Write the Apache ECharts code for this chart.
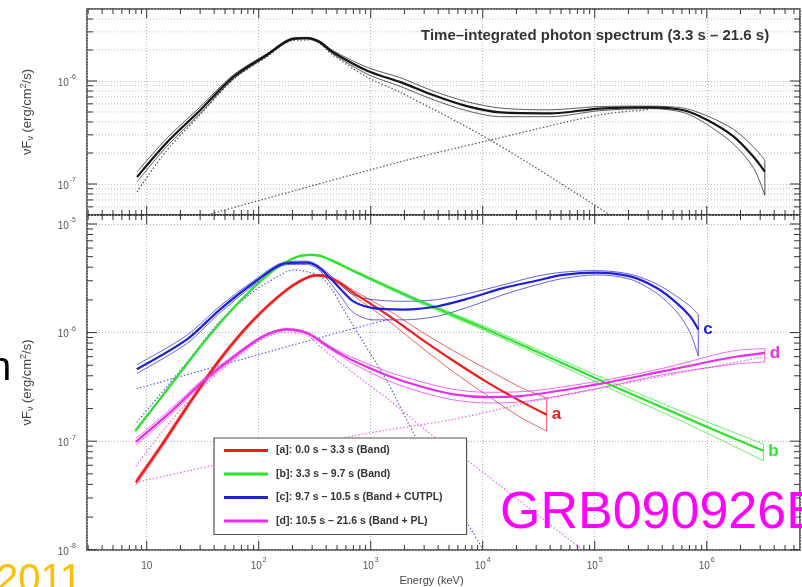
<!DOCTYPE html>
<html><head><meta charset="utf-8">
<script src="https://cdn.jsdelivr.net/npm/echarts@6/dist/echarts.min.js"></script>
<style>html,body{margin:0;padding:0;background:#fff}#c{width:802px;height:587px}</style>
</head><body><div id="c"></div>
<script>
// ---------------- DATA ----------------
// Top panel: time-integrated spectrum (3.3 s - 21.6 s)
const topE   = [8.2, 15, 30, 59, 118, 200, 270, 350, 460, 940, 1820, 3600, 7200, 14500, 40000, 110000, 310000, 620000, 1000000, 1730000, 2600000, 3300000];
const topMid = [1.17e-7, 2.5e-7, 5.2e-7, 1.09e-6, 1.79e-6, 2.56e-6, 2.61e-6, 2.39e-6, 1.9e-6, 1.25e-6, 9.8e-7, 7.3e-7, 5.7e-7, 4.95e-7, 4.85e-7, 5.4e-7, 5.55e-7, 5.2e-7, 4.2e-7, 2.9e-7, 1.85e-7, 1.32e-7];
const topUp  = [1.31e-7, 2.75e-7, 5.6e-7, 1.14e-6, 1.84e-6, 2.61e-6, 2.65e-6, 2.45e-6, 1.97e-6, 1.35e-6, 1.08e-6, 8.0e-7, 6.3e-7, 5.45e-7, 5.25e-7, 5.65e-7, 5.7e-7, 5.45e-7, 4.6e-7, 3.4e-7, 2.3e-7, 1.71e-7];
const topLo  = [1.05e-7, 2.3e-7, 4.85e-7, 1.04e-6, 1.74e-6, 2.51e-6, 2.57e-6, 2.33e-6, 1.83e-6, 1.16e-6, 8.9e-7, 6.6e-7, 5.15e-7, 4.5e-7, 4.5e-7, 5.15e-7, 5.4e-7, 4.95e-7, 3.8e-7, 2.45e-7, 1.45e-7, 7.8e-8];
const topBandE = [8.2, 15, 30, 59, 118, 200, 300, 460, 940, 1820, 11700, 130000, 160000];
const topBandV = [8.4e-8, 2.1e-7, 4.7e-7, 1.03e-6, 1.71e-6, 2.47e-6, 2.5e-6, 1.78e-6, 1.08e-6, 7.8e-7, 2.67e-7, 5.2e-8, 4.4e-8];
const topCplE = [10, 39, 1820, 11700, 110000, 310000];
const topCplV = [3.5e-8, 5.2e-8, 1.64e-7, 2.67e-7, 4.68e-7, 5.3e-7];

// Bottom panel: [a] red
const nameA = '[a]: 0.0 s \u2013 3.3 s (Band)';
const aE   = [8.0, 13.2, 22.7, 45, 90, 178, 287, 352, 497, 700, 1390, 2750, 5470, 10900, 21500, 37200];
const aMid = [4.18e-8, 8.75e-8, 2.04e-7, 5.65e-7, 1.31e-6, 2.48e-6, 3.29e-6, 3.36e-6, 2.98e-6, 2.33e-6, 1.47e-6, 8.9e-7, 5.5e-7, 3.5e-7, 2.35e-7, 1.75e-7];
const aUp  = [4.4e-8, 9.2e-8, 2.14e-7, 5.9e-7, 1.36e-6, 2.55e-6, 3.36e-6, 3.43e-6, 3.06e-6, 2.45e-6, 1.64e-6, 1.04e-6, 6.8e-7, 4.6e-7, 3.15e-7, 2.5e-7];
const aLo  = [3.95e-8, 8.3e-8, 1.94e-7, 5.4e-7, 1.26e-6, 2.41e-6, 3.22e-6, 3.29e-6, 2.88e-6, 2.2e-6, 1.32e-6, 7.5e-7, 4.35e-7, 2.65e-7, 1.67e-7, 1.24e-7];
// [b] green
const nameB = '[b]: 3.3 s \u2013 9.7 s (Band)';
const bE   = [7.9, 16.1, 32, 63.6, 126, 204, 287, 352, 463, 700, 2750, 10900, 30000, 147000, 810000, 3200000];
const bMid = [1.24e-7, 3.21e-7, 8.03e-7, 1.81e-6, 3.53e-6, 4.84e-6, 5.2e-6, 5.1e-6, 4.55e-6, 3.7e-6, 1.94e-6, 1.07e-6, 6.73e-7, 3.21e-7, 1.49e-7, 8.15e-8];
const bUp  = [1.27e-7, 3.28e-7, 8.2e-7, 1.84e-6, 3.58e-6, 4.9e-6, 5.27e-6, 5.18e-6, 4.63e-6, 3.78e-6, 2.0e-6, 1.12e-6, 7.1e-7, 3.45e-7, 1.65e-7, 9.4e-8];
const bLo  = [1.21e-7, 3.14e-7, 7.86e-7, 1.78e-6, 3.48e-6, 4.78e-6, 5.13e-6, 5.02e-6, 4.47e-6, 3.62e-6, 1.87e-6, 1.02e-6, 6.35e-7, 2.95e-7, 1.32e-7, 6.6e-8];
// [c] blue
const nameC = '[c]: 9.7 s \u2013 10.5 s (Band + CUTPL)';
const cE   = [8.15, 22.7, 45, 90, 178, 267, 352, 532, 700, 1055, 1950, 3880, 7700, 15200, 30000, 52000, 104000, 207000, 358000, 540000, 710000, 840000];
const cMid = [4.6e-7, 8.6e-7, 1.63e-6, 2.86e-6, 4.36e-6, 4.4e-6, 3.9e-6, 2.55e-6, 1.94e-6, 1.68e-6, 1.63e-6, 1.74e-6, 2.08e-6, 2.57e-6, 3.0e-6, 3.4e-6, 3.57e-6, 3.29e-6, 2.57e-6, 1.87e-6, 1.41e-6, 1.07e-6];
const cUp  = [5.05e-7, 9.4e-7, 1.75e-6, 3.0e-6, 4.5e-6, 4.55e-6, 4.05e-6, 2.8e-6, 2.23e-6, 2.01e-6, 1.94e-6, 2.01e-6, 2.31e-6, 2.75e-6, 3.3e-6, 3.6e-6, 3.72e-6, 3.45e-6, 2.8e-6, 2.15e-6, 1.75e-6, 1.46e-6];
const cLo  = [4.2e-7, 7.9e-7, 1.52e-6, 2.72e-6, 4.22e-6, 4.25e-6, 3.7e-6, 2.2e-6, 1.53e-6, 1.31e-6, 1.31e-6, 1.41e-6, 1.74e-6, 2.23e-6, 2.75e-6, 3.15e-6, 3.4e-6, 3.1e-6, 2.3e-6, 1.55e-6, 1.0e-6, 6.07e-7];
const cBandE = [8.15, 22.7, 45, 90, 178, 204, 352, 463, 532, 700, 1390, 2570, 10100, 14000];
const cBandV = [1.49e-7, 5.27e-7, 1.27e-6, 2.39e-6, 3.65e-6, 3.78e-6, 3.3e-6, 2.4e-6, 1.85e-6, 1.15e-6, 3.6e-7, 1.05e-7, 1.0e-8, 5.5e-9];
const cCplE = [8.15, 352, 1000, 1500];
const cCplV = [3.04e-7, 9.0e-7, 1.2e-6, 1.33e-6];
// [d] magenta
const nameD = '[d]: 10.5 s \u2013 21.6 s (Band + PL)';
const dE   = [8.0, 16.1, 32, 63.6, 110, 178, 270, 405, 532, 700, 1390, 2750, 5470, 10900, 21500, 104000, 410000, 1600000, 3300000];
const dMid = [9.86e-8, 1.83e-7, 3.57e-7, 6.28e-7, 9.25e-7, 1.07e-6, 9.9e-7, 7.6e-7, 6.4e-7, 5.5e-7, 4.05e-7, 3.2e-7, 2.7e-7, 2.55e-7, 2.6e-7, 3.33e-7, 4.41e-7, 5.86e-7, 6.5e-7];
const dUp  = [1.06e-7, 1.95e-7, 3.75e-7, 6.5e-7, 9.45e-7, 1.09e-6, 1.01e-6, 7.85e-7, 6.65e-7, 5.85e-7, 4.4e-7, 3.55e-7, 3.0e-7, 2.82e-7, 2.85e-7, 3.55e-7, 4.7e-7, 6.7e-7, 7.13e-7];
const dLo  = [9.2e-8, 1.72e-7, 3.4e-7, 6.05e-7, 9.05e-7, 1.05e-6, 9.7e-7, 7.35e-7, 6.15e-7, 5.15e-7, 3.65e-7, 2.85e-7, 2.4e-7, 2.25e-7, 2.3e-7, 3.05e-7, 4.1e-7, 5.05e-7, 5.38e-7];
const dBandE = [8.0, 16.1, 32, 63.6, 110, 178, 270, 352, 532, 1000, 1390, 3880, 7700, 69000, 90000];
const dBandV = [5.9e-8, 1.5e-7, 3.2e-7, 5.86e-7, 8.8e-7, 1.0e-6, 9.4e-7, 7.5e-7, 5.3e-7, 3.2e-7, 2.5e-7, 1.05e-7, 6.38e-8, 1.1e-8, 9e-9];
const dPlE = [8.0, 700, 5470, 30000, 3300000];
const dPlV = [4.18e-8, 1.12e-7, 1.59e-7, 2.35e-7, 6.0e-7];

// axis ranges and tick mantissas
const X_MIN = 2.93, X_MAX = 6.8e6;
const TOP_Y = [5e-8, 5e-6];
const BOT_Y = [9.95e-9, 1.21e-5];
const MANT = [1, 2, 3, 4, 5, 6, 7, 8, 9];
const X_EXP = [0, 1, 2, 3, 4, 5, 6];
const TOP_EXP = [-8, -7, -6];
const BOT_EXP = [-8, -7, -6, -5];

// colours
const RED = '#ee1d1d', GREEN = '#2fe22f', BLUE = '#1f1fd6', MAG = '#e82ee8', BLACK = '#151515';
const FONT = '"Liberation Sans", Arial, Helvetica, sans-serif';

// ---------------- helpers ----------------
function pairs(E, V) { return E.map((e, i) => [e, V[i]]); }
function ln(name, gi, E, V, color, width, opacity, extra) {
  return Object.assign({
    type: 'line', name: name, xAxisIndex: gi, yAxisIndex: gi, data: pairs(E, V),
    showSymbol: false, symbol: 'none', smooth: 0.3, silent: true, animation: false,
    lineStyle: { color: color, width: width, opacity: opacity }, itemStyle: { color: color }, z: 3
  }, extra || {});
}
function dotted(name, gi, E, V, color) {
  return ln(name, gi, E, V, color, 1.2, 0.9, { lineStyle: { color: color, width: 1.2, type: [1.5, 2] }, z: 2 });
}
function cap(name, gi, E, Up, Lo, color) {
  const n = E.length - 1;
  return { type: 'line', name: name, xAxisIndex: gi, yAxisIndex: gi, data: [[E[n], Lo[n]], [E[n], Up[n]]],
    showSymbol: false, symbol: 'none', silent: true, animation: false, lineStyle: { color: color, width: 1, opacity: 0.75 }, z: 3 };
}
function band(name, gi, E, Mid, Up, Lo, color, label) {
  const mid = ln(name, gi, E, Mid, color, 2.2, 1, { z: 4 });
  if (label) {
    mid.endLabel = { show: true, formatter: label, color: color, fontSize: 17, fontWeight: 'bold', fontFamily: FONT, distance: 5 };
  }
  return [
    ln(name + ' up', gi, E, Up, color, 1, 0.7),
    ln(name + ' lo', gi, E, Lo, color, 1, 0.7),
    cap(name + ' cap', gi, E, Up, Lo, color),
    mid
  ];
}
function tickValues(exps, lo, hi) {
  const out = [];
  exps.forEach(e => MANT.forEach(m => {
    const v = m * Math.pow(10, e);
    if (v > lo * 1.0001 && v < hi * 0.9999) out.push({ v: v, major: m === 1 ? 1 : 0 });
  }));
  return out;
}
const TICK_STYLE = { stroke: '#333', lineWidth: 1 };
function xTicks(gi, yRef) {
  return {
    type: 'custom', xAxisIndex: gi, yAxisIndex: gi, silent: true, animation: false, z: 5,
    data: tickValues(X_EXP, X_MIN, X_MAX).map(t => [t.v, yRef, t.major]),
    renderItem: function (params, api) {
      const cs = params.coordSys;
      const x = api.coord([api.value(0), api.value(1)])[0];
      const len = api.value(2) ? 9 : 5;
      const b = cs.y + cs.height, t = cs.y;
      return { type: 'group', children: [
        { type: 'line', shape: { x1: x, y1: b, x2: x, y2: b - len }, style: TICK_STYLE },
        { type: 'line', shape: { x1: x, y1: t, x2: x, y2: t + len }, style: TICK_STYLE }
      ] };
    }
  };
}
function yTicks(gi, exps, range) {
  return {
    type: 'custom', xAxisIndex: gi, yAxisIndex: gi, silent: true, animation: false, z: 5,
    data: tickValues(exps, range[0], range[1]).map(t => [100, t.v, t.major]),
    renderItem: function (params, api) {
      const cs = params.coordSys;
      const y = api.coord([api.value(0), api.value(1)])[1];
      const len = api.value(2) ? 10 : 6;
      const l = cs.x, r = cs.x + cs.width;
      return { type: 'group', children: [
        { type: 'line', shape: { x1: l, y1: y, x2: l + len, y2: y }, style: TICK_STYLE },
        { type: 'line', shape: { x1: r, y1: y, x2: r - len, y2: y }, style: TICK_STYLE }
      ] };
    }
  };
}
function yMinorGrid(gi, exps, range) {
  return {
    type: 'custom', xAxisIndex: gi, yAxisIndex: gi, silent: true, animation: false, z: 1,
    data: tickValues(exps, range[0], range[1]).filter(t => !t.major).map(t => [100, t.v]),
    renderItem: function (params, api) {
      const cs = params.coordSys;
      const y = api.coord([api.value(0), api.value(1)])[1];
      return { type: 'line', shape: { x1: cs.x, y1: y, x2: cs.x + cs.width, y2: y },
        style: { stroke: '#bdbdbd', lineWidth: 1, lineDash: [1, 2] } };
    }
  };
}
function powLabel(v) {
  const lg = Math.log10(v), e = Math.round(lg);
  if (Math.abs(lg - e) > 1e-4) return '';
  if (e === 1) return '{b|10}';
  return '{b|10}{s|' + e + '}';
}
const RICH = {
  b: { fontSize: 10, color: '#555', fontFamily: FONT, lineHeight: 14, verticalAlign: 'bottom' },
  s: { fontSize: 7, color: '#555', fontFamily: FONT, lineHeight: 14, verticalAlign: 'top', padding: [0, 0, 0, 1] }
};
const GRIDLINE = { show: true, lineStyle: { type: [1, 2], color: '#b5b5b5', width: 1 } };
function xAxisCfg(gi, showLabel) {
  return {
    type: 'log', logBase: 10, gridIndex: gi, min: X_MIN, max: X_MAX,
    axisLine: { show: false }, axisTick: { show: false }, minorTick: { show: false },
    splitLine: GRIDLINE,
    axisLabel: { show: showLabel, formatter: powLabel, rich: RICH, margin: 7, showMinLabel: true, showMaxLabel: true },
    name: showLabel ? 'Energy (keV)' : '', nameLocation: 'middle', nameGap: 22,
    nameTextStyle: { fontSize: 11, color: '#444', fontFamily: FONT, padding: [0, 24, 0, 0] }
  };
}
const YNAME = 'νF{sub|ν} (erg/cm{sup|2}/s)';
function yAxisCfg(gi, range) {
  return {
    type: 'log', logBase: 10, gridIndex: gi, min: range[0], max: range[1],
    axisLine: { show: false }, axisTick: { show: false }, minorTick: { show: false },
    splitLine: GRIDLINE,
    axisLabel: { formatter: powLabel, rich: RICH, margin: 11 },
    name: YNAME, nameLocation: 'middle', nameGap: 52,
    nameTextStyle: { fontSize: 13, color: '#444', fontFamily: FONT,
      rich: { sub: { fontSize: 9, color: '#444', verticalAlign: 'bottom', lineHeight: 16 },
              sup: { fontSize: 9, color: '#444', verticalAlign: 'top', lineHeight: 16 } } }
  };
}

// ---------------- series ----------------
const series = [];
// top panel
series.push(yMinorGrid(0, TOP_EXP, TOP_Y));
series.push(dotted('top band', 0, topBandE, topBandV, '#555'));
series.push(dotted('top cpl', 0, topCplE, topCplV, '#555'));
series.push(...band('Time-integrated', 0, topE, topMid, topUp, topLo, BLACK, null));
series.push(xTicks(0, 1e-6), yTicks(0, TOP_EXP, TOP_Y));
// bottom panel
series.push(dotted('c band', 1, cBandE, cBandV, '#5b5be0'));
series.push(dotted('c cutpl', 1, cCplE, cCplV, '#5b5be0'));
series.push(dotted('d band', 1, dBandE, dBandV, '#e466e4'));
series.push(dotted('d pl', 1, dPlE, dPlV, '#e466e4'));
series.push(...band(nameA, 1, aE, aMid, aUp, aLo, RED, 'a'));
series.push(...band(nameB, 1, bE, bMid, bUp, bLo, GREEN, 'b'));
series.push(...band(nameC, 1, cE, cMid, cUp, cLo, BLUE, 'c'));
series.push(...band(nameD, 1, dE, dMid, dUp, dLo, MAG, 'd'));
series.push(xTicks(1, 1e-6), yTicks(1, BOT_EXP, BOT_Y));

const GRID_COMMON = { left: 87, width: 713, show: true, borderColor: '#3a3a3a', borderWidth: 1.5,
  backgroundColor: 'transparent', containLabel: false, outerBoundsMode: 'none' };

const chart = echarts.init(document.getElementById('c'), null, { renderer: 'canvas' });
chart.setOption({
  animation: false,
  backgroundColor: '#fff',
  textStyle: { fontFamily: FONT },
  title: { text: 'Time\u2013integrated photon spectrum (3.3 s \u2013 21.6 s)', left: 416, top: 23,
    textStyle: { fontSize: 15, fontWeight: 'bold', color: '#333', fontFamily: FONT } },
  grid: [
    Object.assign({ top: 9, height: 206 }, GRID_COMMON),
    Object.assign({ top: 215, height: 335 }, GRID_COMMON)
  ],
  xAxis: [xAxisCfg(0, false), xAxisCfg(1, true)],
  yAxis: [yAxisCfg(0, TOP_Y), yAxisCfg(1, BOT_Y)],
  legend: {
    data: [nameA, nameB, nameC, nameD], orient: 'vertical', left: 214, top: 438,
    padding: [7, 24, 8, 10], itemGap: 12.5, itemWidth: 44, itemHeight: 3, icon: 'rect',
    borderColor: '#555', borderWidth: 1.2, backgroundColor: '#fff', selectedMode: false,
    textStyle: { fontSize: 10.5, fontWeight: 'bold', color: '#333', fontFamily: FONT, padding: [0, 0, 0, 3] }
  },
  graphic: [
    { type: 'text', x: -11, y: 349, silent: true, z: 100, style: { text: 'n', font: '40px ' + FONT, fill: '#000' } },
    { type: 'text', x: -4, y: 561, silent: true, z: 100, style: { text: '2011', font: '40px ' + FONT, fill: '#ffc000' } },
    { type: 'text', x: 500, y: 488, silent: true, z: 100, style: { text: 'GRB090926B', font: '52px ' + FONT, fill: '#ff00ff' } }
  ],
  series: series
});
</script>
</body></html>
